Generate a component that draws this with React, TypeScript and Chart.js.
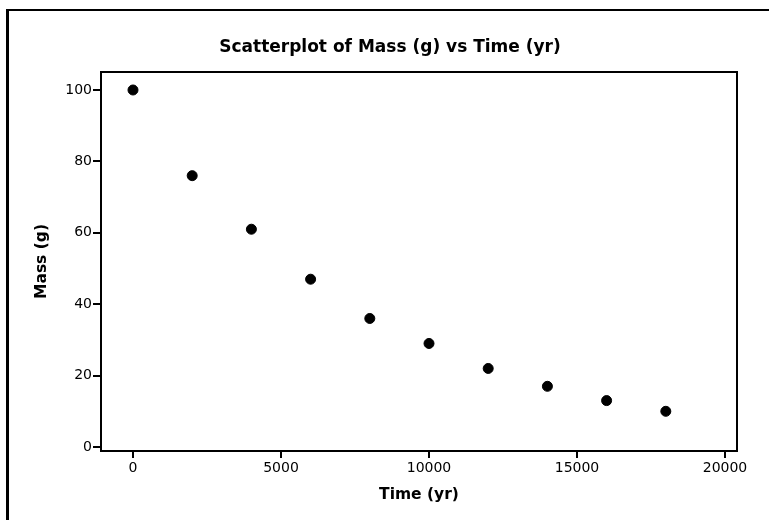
import React, { useEffect, useRef } from "react";
import { Chart, registerables } from "chart.js";

Chart.register(...registerables);

const timeYears = [0, 2000, 4000, 6000, 8000, 10000, 12000, 14000, 16000, 18000];
const massGrams = [100, 76, 61, 47, 36, 29, 22, 17, 13, 10];
const xTickValues = [0, 5000, 10000, 15000, 20000];
const yTickValues = [0, 20, 40, 60, 80, 100];
const chartTitle = "Scatterplot of Mass (g) vs Time (yr)";
const xTitle = "Time (yr)";
const yTitle = "Mass (g)";

const FONT = "'DejaVu Sans', Verdana, sans-serif";

const decorPlugin = {
  id: "decor",
  beforeDraw(chart: any) {
    const ctx = chart.ctx;
    ctx.save();
    ctx.fillStyle = "#ffffff";
    ctx.fillRect(0, 0, chart.width, chart.height);
    ctx.restore();
  },
  afterDraw(chart: any) {
    const ctx = chart.ctx;
    const a = chart.chartArea;
    ctx.save();
    // outer frame
    ctx.strokeStyle = "#000";
    ctx.lineWidth = 3;
    ctx.beginPath();
    ctx.moveTo(7.5, 9);
    ctx.lineTo(7.5, chart.height);
    ctx.stroke();
    ctx.lineWidth = 2;
    ctx.beginPath();
    ctx.moveTo(6, 10);
    ctx.lineTo(chart.width, 10);
    ctx.stroke();
    // plot rectangle
    ctx.lineWidth = 2;
    ctx.strokeRect(a.left, a.top, a.right - a.left, a.bottom - a.top);
    // titles
    ctx.fillStyle = "#000";
    ctx.textAlign = "center";
    ctx.textBaseline = "middle";
    ctx.font = "bold 17px " + FONT;
    ctx.fillText(chartTitle, 390, 48);
    ctx.font = "bold 15.5px " + FONT;
    ctx.fillText(xTitle, (a.left + a.right) / 2, 495);
    ctx.translate(42, (a.top + a.bottom) / 2);
    ctx.rotate(-Math.PI / 2);
    ctx.fillText(yTitle, 0, 0);
    ctx.restore();
  },
};

export default function App() {
  const ref = useRef<HTMLCanvasElement>(null);
  useEffect(() => {
    document.body.style.margin = "0";
    const chart = new Chart(ref.current as HTMLCanvasElement, {
      type: "scatter",
      data: {
        datasets: [
          {
            data: timeYears.map((t, i) => ({ x: t, y: massGrams[i] })),
            backgroundColor: "#000",
            borderColor: "#000",
            pointRadius: 5,
            pointHoverRadius: 5,
          },
        ],
      },
      options: {
        animation: false,
        responsive: false,
        maintainAspectRatio: false,
        layout: { padding: { top: 72, right: 32, left: 0, bottom: 0 } },
        plugins: { legend: { display: false }, title: { display: false }, tooltip: { enabled: false } },
        scales: {
          x: {
            type: "linear",
            min: -1081,
            max: 20405,
            afterBuildTicks: (s: any) => {
              s.ticks = xTickValues.map((v) => ({ value: v }));
            },
            afterFit: (s: any) => {
              s.height = 69;
            },
            grid: { drawOnChartArea: false, drawTicks: true, tickLength: 7, color: "#000", lineWidth: 2 },
            border: { display: false },
            ticks: {
              color: "#000",
              font: { family: FONT, size: 14 },
              padding: 2,
              maxRotation: 0,
              autoSkip: false,
              callback: (v: any) => String(v),
            },
          },
          y: {
            type: "linear",
            min: -1.12,
            max: 105.04,
            afterBuildTicks: (s: any) => {
              s.ticks = yTickValues.map((v) => ({ value: v }));
            },
            afterFit: (s: any) => {
              s.width = 101;
            },
            grid: { drawOnChartArea: false, drawTicks: true, tickLength: 8, color: "#000", lineWidth: 2 },
            border: { display: false },
            ticks: {
              color: "#000",
              font: { family: FONT, size: 14 },
              padding: 1,
              autoSkip: false,
              callback: (v: any) => String(v),
            },
          },
        },
      },
      plugins: [decorPlugin],
    });
    return () => chart.destroy();
  }, []);
  return (
    <div style={{ position: "absolute", left: 0, top: 0, width: 769, height: 520 }}>
      <canvas ref={ref} width={769} height={520} style={{ width: 769, height: 520 }} />
    </div>
  );
}
